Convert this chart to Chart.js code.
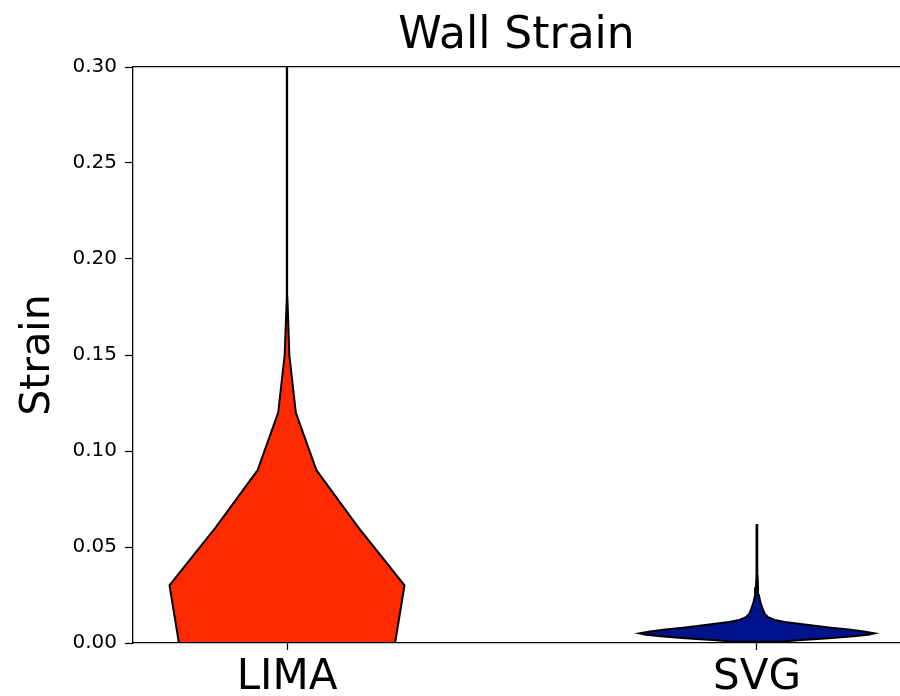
<!DOCTYPE html>
<html>
<head>
<meta charset="utf-8">
<script src="https://cdn.jsdelivr.net/npm/chart.js@4.4.0/dist/chart.umd.min.js"></script>
<style>
  body { margin: 0; background: #fff; }
  #wrap { width: 900px; height: 696px; }
</style>
</head>
<body>
<div id="wrap"><canvas id="myChart"></canvas></div>
<script>
// categories and where they sit on the x axis
let categories = ["LIMA", "SVG"];
let positions = [1, 2];
let fillColors = ["#ff2a00", "#00128c"];

// strain values where each density was sampled, density relative to its peak
let limaStrain = [0, 0.03, 0.06, 0.09, 0.12, 0.15, 0.18, 0.21, 0.24, 0.27, 0.30];
let limaDensity = [0.92, 1.0, 0.61, 0.25, 0.075, 0.02, 0.003, 0.0015, 0.001, 0.001, 0.001];

let svgStrain = [0.0007, 0.0015, 0.0025, 0.0035, 0.0043, 0.005, 0.006, 0.007, 0.008, 0.009,
  0.010, 0.011, 0.012, 0.0135, 0.015, 0.0175, 0.021, 0.025, 0.029, 0.035, 0.045, 0.0615];
let svgDensity = [0.19, 0.38, 0.61, 0.82, 0.945, 1.0, 0.91, 0.78, 0.63, 0.49,
  0.355, 0.236, 0.152, 0.093, 0.068, 0.05, 0.03, 0.016, 0.009, 0.005, 0.003, 0.002];

let yTicks = [0, 0.05, 0.10, 0.15, 0.20, 0.25, 0.30];

let violinWidth = 0.5;
let xMin = 0.6723;
let xMax = 2.3043;

function violinOutline(pos, strain, density) {
  let half = violinWidth / 2;
  let right = strain.map((v, i) => ({ x: pos + half * density[i], y: v }));
  let left = strain.map((v, i) => ({ x: pos - half * density[i], y: v })).reverse();
  let pts = right.concat(left);
  pts.push(pts[0]);
  return pts;
}

let violins = [
  violinOutline(positions[0], limaStrain, limaDensity),
  violinOutline(positions[1], svgStrain, svgDensity)
].map((pts, i) => ({
  label: categories[i],
  data: pts,
  backgroundColor: fillColors[i],
  borderColor: "#000",
  borderWidth: 2,
  fill: "shape",
  pointRadius: 0,
  tension: 0
}));

Chart.defaults.font.family = "'DejaVu Sans', sans-serif";
Chart.defaults.color = "#000";

var ctx = document.getElementById("myChart").getContext("2d");
var chart = new Chart(ctx, {
  type: "line",
  data: { datasets: violins },
  options: {
    responsive: true,
    maintainAspectRatio: false,
    animation: false,
    layout: { padding: 0 },
    plugins: {
      legend: { display: false },
      tooltip: { enabled: false }
    },
    scales: {
      x: {
        type: "linear",
        position: "bottom",
        min: xMin,
        max: xMax,
        afterBuildTicks: axis => { axis.ticks = positions.map(v => ({ value: v })); },
        ticks: {
          callback: v => categories[positions.indexOf(v)],
          font: { size: 42 },
          padding: 3,
          maxRotation: 0,
          autoSkip: false
        },
        grid: { drawOnChartArea: false, tickLength: 7, tickColor: "#000", tickWidth: 1.2 },
        border: { color: "#000", width: 1.3 },
        afterFit: s => { s.height = 53; }
      },
      x2: {
        type: "linear",
        position: "top",
        min: xMin,
        max: xMax,
        ticks: { display: false },
        grid: { drawOnChartArea: false, drawTicks: false },
        border: { display: true, color: "#000", width: 1.3 },
        title: {
          display: true,
          text: "Wall Strain",
          font: { size: 44 },
          padding: { top: 10, bottom: 0 }
        },
        afterFit: s => { s.height = 67; }
      },
      y: {
        min: 0,
        max: 0.3,
        afterBuildTicks: axis => { axis.ticks = yTicks.map(v => ({ value: v })); },
        ticks: {
          callback: v => v.toFixed(2),
          font: { size: 20 },
          padding: 8
        },
        grid: { drawOnChartArea: false, tickLength: 8, tickColor: "#000", tickWidth: 1.2 },
        border: { color: "#000", width: 1.3 },
        title: {
          display: true,
          text: "Strain",
          font: { size: 41 },
          padding: { top: 14, bottom: 0 }
        },
        afterFit: s => { s.width = 133; }
      }
    }
  }
});
</script>
</body>
</html>
